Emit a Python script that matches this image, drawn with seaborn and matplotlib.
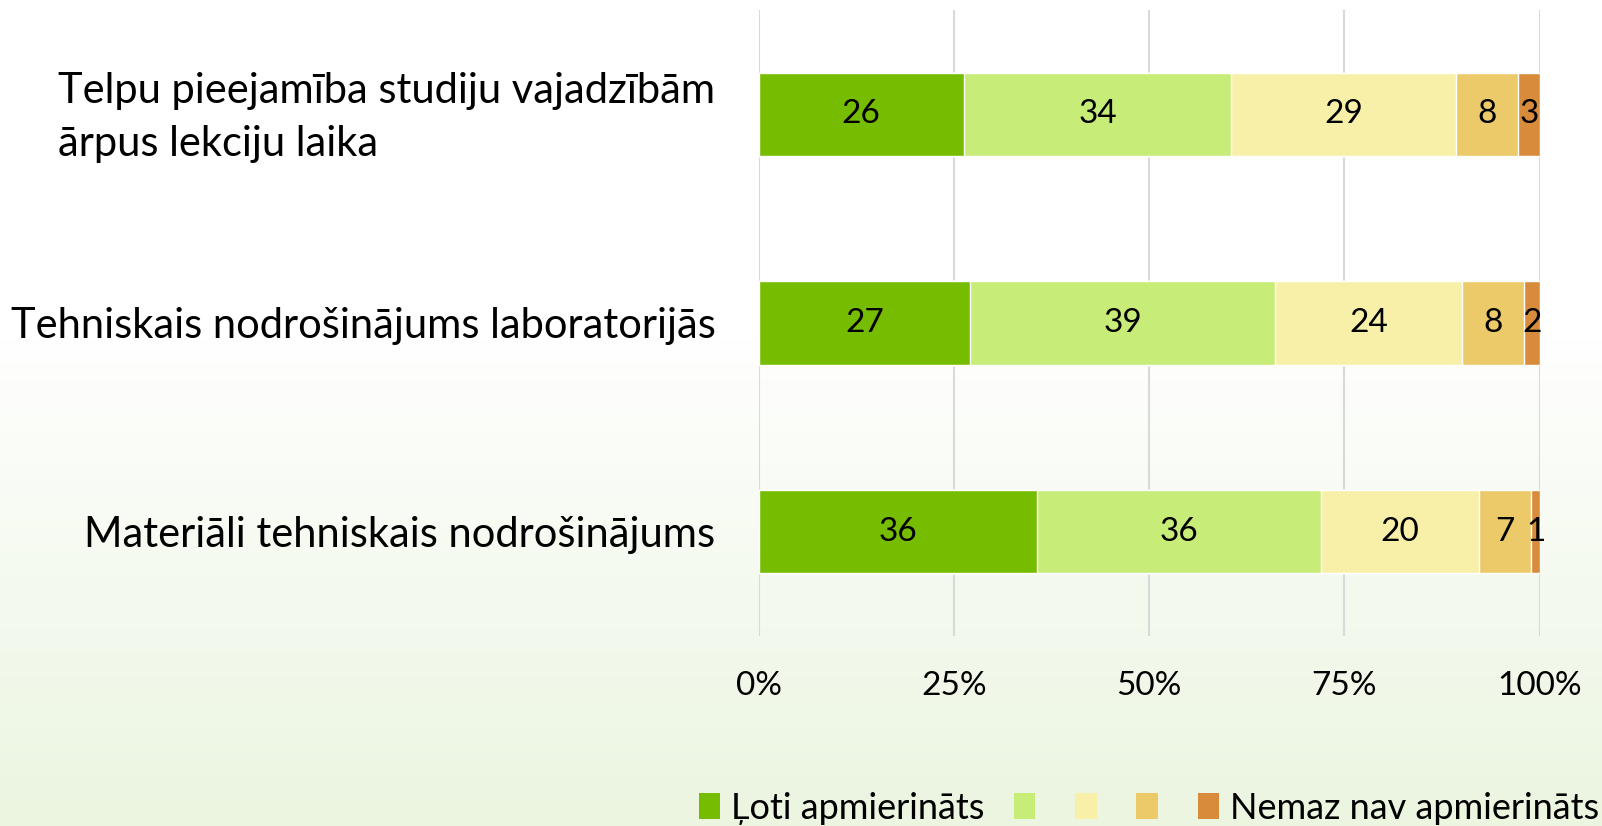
import numpy as np
import pandas as pd
import seaborn as sns
import matplotlib.pyplot as plt
from matplotlib.colors import LinearSegmentedColormap
from matplotlib.patches import Patch
from matplotlib.ticker import FuncFormatter
from matplotlib.transforms import ScaledTranslation

categories = ['Telpu pieejamība studiju vajadzībām\nārpus lekciju laika',
              'Tehniskais nodrošinājums laboratorijās',
              'Materiāli tehniskais nodrošinājums']
levels = ['Ļoti apmierināts', '', '', '', 'Nemaz nav apmierināts']
level_1 = [26.3, 27.1, 35.7]
level_2 = [34.2, 39.0, 36.3]
level_3 = [28.8, 24.0, 20.3]
level_4 = [8.0, 7.9, 6.6]
level_5 = [2.7, 2.0, 1.2]
colors = ['#76BC00', '#C8EC78', '#F8F0A8', '#ECCA6A', '#D98B3C']

sns.set_theme(style='white')
plt.rcParams['font.family'] = ['Lato', 'DejaVu Sans']
plt.rcParams['text.color'] = 'black'
plt.rcParams['xtick.color'] = 'black'
plt.rcParams['ytick.color'] = 'black'

fig = plt.figure(figsize=(16.02, 8.26), dpi=100)

# background: white fading to pale green towards the bottom
bg = fig.add_axes([0, 0, 1, 1], zorder=-10)
grad = np.concatenate([np.zeros(40), np.linspace(0, 1, 60)])[:, None]
cmap = LinearSegmentedColormap.from_list('bg', ['#FFFFFF', '#EBF5E0'])
bg.imshow(grad, aspect='auto', cmap=cmap, extent=[0, 1, 0, 1], origin='upper')
bg.axis('off')

ax = fig.add_axes([0.4735, 0.23, 0.4875, 0.758])
ax.patch.set_alpha(0)

df = pd.DataFrame({'cat': categories, 'l1': level_1, 'l2': level_2,
                   'l3': level_3, 'l4': level_4, 'l5': level_5})
cols = ['l1', 'l2', 'l3', 'l4', 'l5']
cum = df[cols].cumsum(axis=1)

# overlapping cumulative bars, widest first
for i in range(len(cols) - 1, -1, -1):
    sns.barplot(x=cum[cols[i]], y=df['cat'], orient='h', color=colors[i],
                saturation=1, width=0.4, ax=ax, zorder=3)

for r in range(len(df)):
    left = 0
    for c in cols:
        v = df[c][r]
        ax.text(left + v / 2, r, str(int(round(v))), ha='center', va='center',
                fontsize=24, color='black', zorder=4)
        left += v

ax.set_xlim(0, 100)
ax.set_ylim(2.5, -0.5)
ax.set_xticks([0, 25, 50, 75, 100])
ax.xaxis.set_major_formatter(FuncFormatter(lambda x, p: '%d%%' % x))
ax.grid(axis='x', color='#D9D9D9', linewidth=1.5, zorder=0)
ax.grid(axis='y', visible=False)
for s in ax.spines.values():
    s.set_visible(False)
ax.tick_params(axis='x', labelsize=24, pad=25, length=0)
ax.tick_params(axis='y', labelsize=30, pad=31, length=0)
ax.set_xlabel('')
ax.set_ylabel('')
for t in ax.get_yticklabels():
    t.set_multialignment('left')
    t.set_linespacing(1.5)
# nudge the two-line label up a little
first = ax.get_yticklabels()[0]
first.set_transform(first.get_transform() +
                    ScaledTranslation(0, 0.08, fig.dpi_scale_trans))

handles = [Patch(facecolor=c, edgecolor='none') for c in colors]
ax.legend(handles, levels, loc='center', bbox_to_anchor=(0.5, -0.275),
          ncol=5, frameon=False, fontsize=26, handlelength=0.6,
          handleheight=0.7, handletextpad=0.3, columnspacing=0.8)

plt.savefig('out.png', dpi=100)
